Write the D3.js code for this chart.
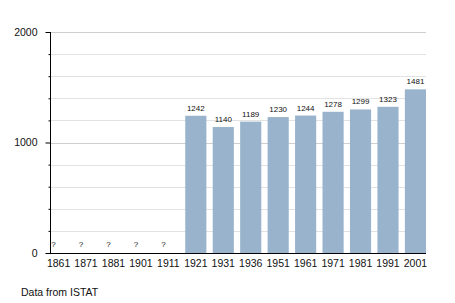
<!DOCTYPE html>
<html><head><meta charset="utf-8">
<script src="https://cdn.jsdelivr.net/npm/d3@7"></script>
<style>body{margin:0;background:#fff}svg{display:block}text{font-family:"Liberation Sans",Arial,Helvetica,sans-serif}</style>
</head><body>
<svg id="c" width="455" height="303"></svg>
<script>
const years = ["1861","1871","1881","1901","1911","1921","1931","1936","1951","1961","1971","1981","1991","2001"];
const population = [null,null,null,null,null,1242,1140,1189,1230,1244,1278,1299,1323,1481];
const majorTicks = [0,1000,2000];
const minorTicks = [200,400,600,800,1200,1400,1600,1800];
const source = "Data from ISTAT";

const svg = d3.select("#c");
const y = d3.scaleLinear().domain([0,2000]).range([253,32]);
const x = d3.scaleBand().domain(years).range([48,426]).paddingInner(0.23).paddingOuter(0);
const axX0 = 50.5, axX1 = 426;
const FF = '"Liberation Sans",Arial,sans-serif';

// gridlines
svg.append("g").selectAll("line").data(minorTicks).join("line")
  .attr("x1",axX0).attr("x2",axX1).attr("y1",d=>Math.round(y(d))+0.5).attr("y2",d=>Math.round(y(d))+0.5)
  .attr("stroke","#e2e2e2").attr("stroke-width",1);
svg.append("g").selectAll("line").data(majorTicks.filter(d=>d>0)).join("line")
  .attr("x1",axX0).attr("x2",axX1).attr("y1",d=>Math.round(y(d))+0.5).attr("y2",d=>Math.round(y(d))+0.5)
  .attr("stroke","#cfcfcf").attr("stroke-width",1);

// bars
const data = years.map((yr,i)=>({yr, v: population[i]}));
svg.append("g").selectAll("rect").data(data.filter(d=>d.v!=null)).join("rect")
  .attr("x",d=>x(d.yr)).attr("width",x.bandwidth())
  .attr("y",d=>y(d.v)).attr("height",d=>y(0)-y(d.v))
  .attr("fill","#99b3cc");

// value labels
svg.append("g").selectAll("text").data(data).join("text")
  .attr("x",d=>d.v==null ? x(d.yr)+x.bandwidth()/2-5 : x(d.yr)+x.bandwidth()/2)
  .attr("y",d=>d.v==null ? 247 : y(d.v)-5)
  .attr("text-anchor","middle").attr("font-size","8px").attr("fill","#111")
  .text(d=>d.v==null ? "?" : d.v);

// y axis
const ya = d3.axisLeft(y).tickValues(majorTicks).tickSize(5).tickPadding(8).tickFormat(d3.format("d"));
const gy = svg.append("g").attr("transform",`translate(${axX0},0)`).call(ya);
gy.select(".domain").remove();
gy.selectAll("text").attr("font-size","10.5px").attr("fill","#111").style("font-family",FF);
const ym = d3.axisLeft(y).tickValues(minorTicks).tickSize(2).tickFormat("");
const gym = svg.append("g").attr("transform",`translate(${axX0},0)`).call(ym);
gym.select(".domain").remove();
svg.append("line").attr("x1",axX0).attr("x2",axX0).attr("y1",y(2000)).attr("y2",y(0)+0.5).attr("stroke","#000");

// x axis
svg.append("line").attr("x1",axX0-0.5).attr("x2",axX1).attr("y1",Math.round(y(0))+0.5).attr("y2",Math.round(y(0))+0.5).attr("stroke","#000");
const xa = d3.axisBottom(x).tickSize(0).tickPadding(6);
const gx = svg.append("g").attr("transform",`translate(0,${Math.round(y(0))+0.5})`).call(xa);
gx.select(".domain").remove();
gx.selectAll("text").attr("font-size","10.5px").attr("fill","#111").style("font-family",FF);

// source
svg.append("text").attr("x",21).attr("y",296).attr("font-size","10.5px").attr("fill","#111").style("font-family",FF).text(source);
</script>
</body></html>
